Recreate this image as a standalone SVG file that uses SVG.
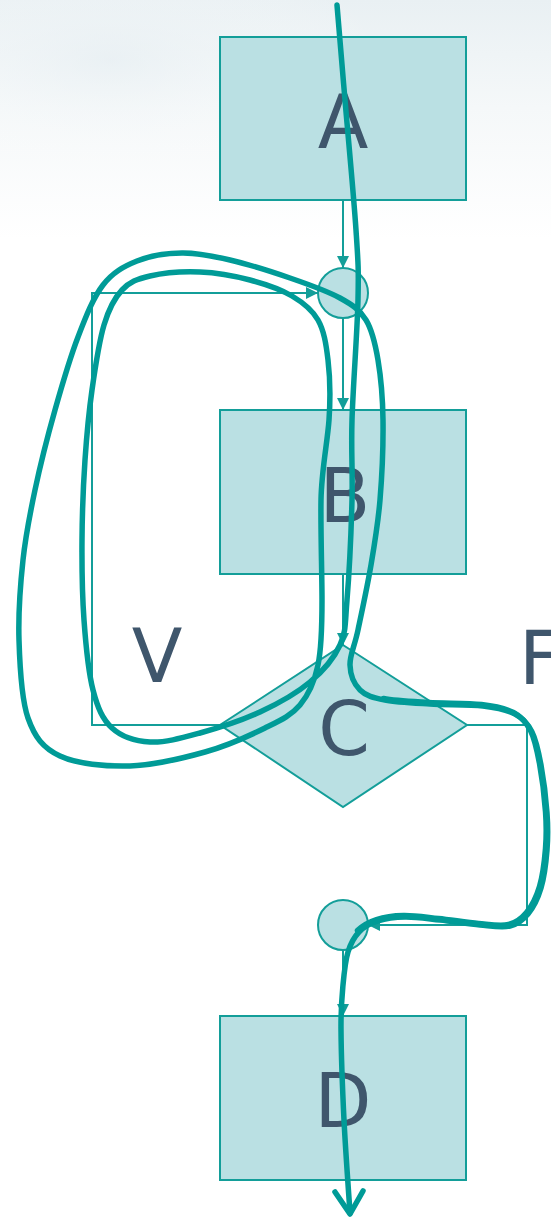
<svg xmlns="http://www.w3.org/2000/svg" width="551" height="1218" viewBox="0 0 551 1218">
<style>
.node{fill:#bae0e3;stroke:#139e99;stroke-width:2}
.lbl{font-family:"DejaVu Sans",sans-serif;font-size:74px;fill:#3f566c;text-anchor:middle}
.conn{fill:none;stroke:#139e99;stroke-width:2}
.hand{fill:none;stroke:#009b97;stroke-width:5.5;stroke-linecap:round;stroke-linejoin:round}
</style>
<defs>
<linearGradient id="bg" x1="0" y1="0" x2="0" y2="1">
<stop offset="0" stop-color="#e9f0f3"/>
<stop offset="0.45" stop-color="#f5f8f9"/>
<stop offset="1" stop-color="#ffffff"/>
</linearGradient>
<radialGradient id="cloud" cx="0.2" cy="0.25" r="0.5">
<stop offset="0" stop-color="#e6eef2" stop-opacity="0.6"/>
<stop offset="1" stop-color="#ffffff" stop-opacity="0"/>
</radialGradient>
<marker id="ah" viewBox="0 0 10 10" refX="10" refY="5" markerWidth="12" markerHeight="12" markerUnits="userSpaceOnUse" orient="auto">
<path d="M0,0 L10,5 L0,10 z" fill="#139e99"/>
</marker>
</defs>
<rect x="0" y="0" width="551" height="1218" fill="#ffffff"/>
<rect x="0" y="0" width="551" height="240" fill="url(#bg)"/>
<rect x="0" y="0" width="551" height="240" fill="url(#cloud)"/>

<g id="node-A"><rect class="node" x="220" y="37" width="246" height="163"/><text class="lbl" x="343" y="148">A</text></g>
<g id="node-J1"><circle class="node" cx="343" cy="293" r="25"/></g>
<g id="node-B"><rect class="node" x="220" y="410" width="246" height="164"/><text class="lbl" x="345" y="522">B</text></g>
<g id="node-C"><polygon class="node" points="343,645 467,725 343,807 220,725"/><text class="lbl" x="344" y="755">C</text></g>
<g id="node-J2"><circle class="node" cx="343" cy="925" r="25"/></g>
<g id="node-D"><rect class="node" x="220" y="1016" width="246" height="164"/><text class="lbl" x="343" y="1127">D</text></g>

<g id="connectors">
<path class="conn" d="M343,200 L343,268" marker-end="url(#ah)"/>
<path class="conn" d="M343,318 L343,410" marker-end="url(#ah)"/>
<path class="conn" d="M343,574 L343,645" marker-end="url(#ah)"/>
<path class="conn" d="M220,725 L92,725 L92,293 L318,293" marker-end="url(#ah)"/>
<path class="conn" d="M467,725 L527,725 L527,925 L368,925" marker-end="url(#ah)"/>
<path class="conn" d="M343,950 L343,1016" marker-end="url(#ah)"/>
<text class="lbl" x="157" y="682">V</text>
<text class="lbl" x="519" y="684" style="text-anchor:start">F</text>
</g>

<g id="trace">
<path class="hand" d="M337,5 C338.3,20.8 341.8,62.5 345,100 C348.2,137.5 353.8,196.7 356,230 C358.2,263.3 358.7,268.3 358,300 C357.3,331.7 353,386.7 352,420 C351,453.3 352.8,470 352,500 C351.2,530 349,575.8 347,600 C345,624.2 346.2,631.3 340,645 C333.8,658.7 323.3,670.8 310,682 C296.7,693.2 278.3,703.5 260,712 C241.7,720.5 218.3,728 200,733 C181.7,738 164.7,742.8 150,742 C135.3,741.2 121.5,736.7 112,728 C102.5,719.3 97.7,708 93,690 C88.3,672 85.8,645 84,620 C82.2,595 81.8,566.7 82,540 C82.2,513.3 83.3,485 85,460 C86.7,435 88.8,412.5 92,390 C95.2,367.5 99,341.7 104,325 C109,308.3 114.3,298.2 122,290 C129.7,281.8 137,279 150,276 C163,273 183.3,271.3 200,272 C216.7,272.7 234.7,276 250,280 C265.3,284 280.7,289.3 292,296 C303.3,302.7 312,309.3 318,320 C324,330.7 326,343.3 328,360 C330,376.7 330.5,398 329,420 C327.5,442 321.5,470 321,500 C320.5,530 322,572.5 322,600 C322,627.5 321.7,647.5 318,665 C314.3,682.5 308.8,694.5 300,705 C291.2,715.5 280.8,720.2 265,728 C249.2,735.8 227.5,745.7 205,752 C182.5,758.3 154.2,765.3 130,766 C105.8,766.7 77,764 60,756 C43,748 34.8,737.3 28,718 C21.2,698.7 19.8,666.3 19,640 C18.2,613.7 20.3,585 23,560 C25.7,535 29.7,515 35,490 C40.3,465 47.8,435.5 55,410 C62.2,384.5 70,357.8 78,337 C86,316.2 93.2,297.7 103,285 C112.8,272.3 123.8,266.3 137,261 C150.2,255.7 166.5,253.2 182,253 C197.5,252.8 212,255.8 230,260 C248,264.2 271.7,271.7 290,278 C308.3,284.3 327.3,291 340,298 C352.7,305 359.7,309.7 366,320 C372.3,330.3 375.2,343.3 378,360 C380.8,376.7 382.7,396.7 383,420 C383.3,443.3 382,475.8 380,500 C378,524.2 374.7,543.3 371,565 C367.3,586.7 361.5,613.3 358,630 C354.5,646.7 349.7,655 350,665 C350.3,675 354.2,684.2 360,690 C365.8,695.8 373.3,697.7 385,700 C396.7,702.3 413.7,703 430,704 C446.3,705 468.8,704.3 483,706 C497.2,707.7 506.8,709.7 515,714 C523.2,718.3 527.7,723.5 532,732 C536.3,740.5 538.5,751.5 541,765 C543.5,778.5 546,798.8 547,813 C548,827.2 548,837.5 547,850 C546,862.5 544.2,877.3 541,888 C537.8,898.7 533.2,907.7 528,914 C522.8,920.3 518,924.2 510,926 C502,927.8 491.7,926 480,925 C468.3,924 452.5,921.3 440,920 C427.5,918.7 415.3,916.8 405,917 C394.7,917.2 385.7,918.5 378,921 C370.3,923.5 364,926.8 359,932 C354,937.2 350.7,943.2 348,952 C345.3,960.8 344.2,972 343,985 C341.8,998 340.8,1007.5 341,1030 C341.2,1052.5 342.5,1089.5 344,1120 C345.5,1150.5 349,1197.5 350,1213"/>
<path class="hand" transform="translate(-1.5,-1.5)" d="M385,700 C396.7,702.3 413.7,703 430,704 C446.3,705 468.8,704.3 483,706 C497.2,707.7 506.8,709.7 515,714 C523.2,718.3 527.7,723.5 532,732 C536.3,740.5 538.5,751.5 541,765 C543.5,778.5 546,798.8 547,813 C548,827.2 548,837.5 547,850 C546,862.5 544.2,877.3 541,888 C537.8,898.7 533.2,907.7 528,914 C522.8,920.3 518,924.2 510,926 C502,927.8 491.7,926 480,925 C468.3,924 452.5,921.3 440,920 C427.5,918.7 415.3,916.8 405,917 C394.7,917.2 385.7,918.5 378,921 C370.3,923.5 364,926.8 359,932"/>
<path class="hand" d="M335,1192 L350,1214 L363,1191"/>
</g>
</svg>
